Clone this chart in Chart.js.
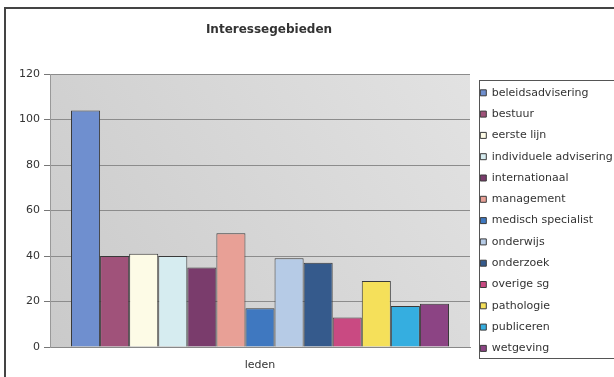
<!DOCTYPE html>
<html>
<head>
<meta charset="utf-8">
<script src="https://cdn.jsdelivr.net/npm/chart.js@4"></script>
<style>
  html, body { margin: 0; padding: 0; background: #fff; overflow: hidden; }
  #wrap { position: absolute; left: 0; top: 0; width: 620px; height: 377px; }
</style>
</head>
<body>
<div id="wrap"><canvas id="c"></canvas></div>
<script>
const chartTitle = 'Interessegebieden';
const categories = ['leden'];
const seriesNames = ['beleidsadvisering', 'bestuur', 'eerste lijn', 'individuele advisering',
  'internationaal', 'management', 'medisch specialist', 'onderwijs', 'onderzoek',
  'overige sg', 'pathologie', 'publiceren', 'wetgeving'];
const seriesValues = [104, 40, 41, 40, 35, 50, 17, 39, 37, 13, 29, 18, 19];
const seriesColors = ['#6f8fcf', '#a0527a', '#fdfbe6', '#d6ecf0', '#7a3c6c', '#e8a096',
  '#3f78c0', '#b6cbe6', '#355a8c', '#c94a82', '#f5e05a', '#35aee0', '#8c4484'];
const yMin = 0, yMax = 120, yStep = 20;

const FONT = 'DejaVu Sans';

const datasets = seriesNames.map((name, i) => ({
  label: name,
  data: [seriesValues[i]],
  backgroundColor: seriesColors[i],
  borderColor: '#3a3a3a',
  borderWidth: 1
}));

const decor = {
  id: 'decor',
  beforeDraw(chart) {
    const {ctx, chartArea: a} = chart;
    ctx.save();
    // plot background
    const g = ctx.createLinearGradient(a.left, a.bottom, a.right, a.top);
    g.addColorStop(0, '#cacaca');
    g.addColorStop(1, '#e2e2e2');
    ctx.fillStyle = g;
    ctx.fillRect(a.left, a.top, a.right - a.left, a.bottom - a.top);
    // outer frame
    ctx.strokeStyle = '#444';
    ctx.lineWidth = 2;
    ctx.beginPath();
    ctx.moveTo(5, 377);
    ctx.lineTo(5, 8);
    ctx.lineTo(620, 8);
    ctx.stroke();
    // title
    ctx.fillStyle = '#333';
    ctx.font = 'bold 12px "' + FONT + '"';
    ctx.textAlign = 'center';
    ctx.textBaseline = 'middle';
    ctx.fillText(chartTitle, 269, 30);
    ctx.restore();
  },
  afterDraw(chart) {
    const {ctx} = chart;
    ctx.save();
    ctx.strokeStyle = '#555';
    ctx.lineWidth = 1;
    ctx.strokeRect(479.5, 80.5, 200, 278);
    ctx.restore();
  }
};

new Chart(document.getElementById('c'), {
  type: 'bar',
  data: { labels: categories, datasets },
  plugins: [decor],
  options: {
    responsive: true,
    maintainAspectRatio: false,
    animation: false,
    layout: { padding: { left: 6, top: 74, right: 0, bottom: 6 } },
    datasets: { bar: { categoryPercentage: 0.9, barPercentage: 1.0 } },
    plugins: {
      title: { display: false },
      tooltip: { enabled: false },
      legend: {
        position: 'right',
        align: 'start',
        maxWidth: 150,
        title: { display: true, text: ' ', font: { size: 3, lineHeight: 1 }, padding: 0 },
        labels: {
          boxWidth: 6,
          boxHeight: 6,
          padding: 10.3,
          color: '#333',
          font: { family: FONT, size: 11 }
        }
      }
    },
    scales: {
      x: {
        grid: { display: false },
        border: { display: true, color: '#888', width: 1 },
        ticks: { color: '#333', padding: 4, font: { family: FONT, size: 11 } },
        afterFit(s) { s.height = 24; s.paddingLeft = 0; s.paddingRight = 0; }
      },
      y: {
        min: yMin, max: yMax,
        ticks: { stepSize: yStep, color: '#333', padding: 4, font: { family: FONT, size: 11 } },
        grid: { color: '#8c8c8c', lineWidth: 1, tickLength: 6, tickColor: '#777' },
        border: { display: true, color: '#999', width: 1 },
        afterFit(s) { s.width = 44; s.paddingTop = 0; s.paddingBottom = 0; }
      }
    }
  }
});
</script>
</body>
</html>
